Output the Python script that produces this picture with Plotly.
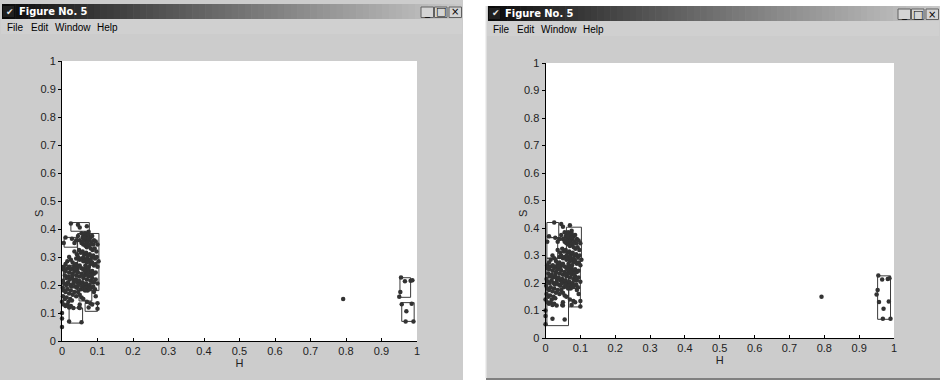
import plotly.graph_objects as go

W, HT = 940, 380

# ---------------- data (H, S pixel samples) ----------------
H_VALS = [
    # top
    0.025, 0.05, 0.075, 0.045, 0.07,
    # upper core
    0.055, 0.06, 0.065, 0.07, 0.075, 0.08, 0.085, 0.09, 0.058, 0.062, 0.068, 0.072, 0.078, 0.083,
    0.088, 0.095, 0.10, 0.05, 0.055, 0.06, 0.066, 0.07, 0.076, 0.081, 0.086, 0.092, 0.097, 0.045,
    0.04, 0.035, 0.028, 0.01, 0.005, 0.064, 0.074, 0.069, 0.079, 0.059,
    # mid
    0.035, 0.042, 0.048, 0.053, 0.058, 0.063, 0.068, 0.073, 0.078, 0.083, 0.088, 0.093, 0.098, 0.103,
    0.04, 0.045, 0.05, 0.055, 0.06, 0.065, 0.07, 0.075, 0.08, 0.085, 0.09, 0.095, 0.10, 0.02,
    0.025, 0.03, 0.015, 0.01, 0.005, 0.035, 0.03, 0.061, 0.071, 0.081, 0.066, 0.076,
    # lower-mid
    0.005, 0.01, 0.015, 0.02, 0.025, 0.03, 0.035, 0.04, 0.045, 0.05, 0.055, 0.06, 0.065, 0.07,
    0.075, 0.08, 0.085, 0.09, 0.095, 0.10, 0.008, 0.012, 0.018, 0.022, 0.028, 0.033, 0.038, 0.043,
    0.048, 0.053, 0.058, 0.063, 0.068, 0.073, 0.078, 0.083, 0.088, 0.093, 0.003, 0.006, 0.012, 0.017,
    0.023, 0.027, 0.032, 0.037, 0.042, 0.047, 0.052, 0.057, 0.062, 0.067, 0.072, 0.077, 0.055, 0.06,
    0.065, 0.07, 0.075, 0.08, 0.085, 0.09, 0.095, 0.05, 0.045, 0.04, 0.067, 0.073, 0.058, 0.064,
    0.083, 0.087, 0.043, 0.038, 0.029, 0.021,
    # lower
    0.002, 0.005, 0.01, 0.015, 0.02, 0.025, 0.03, 0.035, 0.04, 0.003, 0.008, 0.013, 0.018, 0.023,
    0.028, 0.0, 0.005, 0.01, 0.015, 0.02, 0.025, 0.032, 0.048, 0.05, 0.045, 0.05, 0.055, 0.06,
    0.065, 0.07, 0.09, 0.095, 0.10, 0.10, 0.08, 0.085, 0.075, 0.0, 0.0, 0.0, 0.02, 0.055, 0.05,
    # outlier and far cluster
    0.792,
    0.955, 0.966, 0.982, 0.987, 0.953, 0.950, 0.957, 0.985, 0.970, 0.968, 0.990,
]
S_VALS = [
    0.42, 0.405, 0.39, 0.415, 0.41,
    0.385, 0.38, 0.385, 0.375, 0.38, 0.37, 0.375, 0.36, 0.37, 0.365, 0.36, 0.355, 0.36, 0.35,
    0.345, 0.355, 0.345, 0.36, 0.35, 0.345, 0.34, 0.335, 0.34, 0.33, 0.325, 0.33, 0.32, 0.375,
    0.36, 0.35, 0.365, 0.37, 0.35, 0.37, 0.365, 0.35, 0.345, 0.355,
    0.32, 0.31, 0.325, 0.315, 0.32, 0.31, 0.315, 0.305, 0.31, 0.30, 0.305, 0.295, 0.30, 0.285,
    0.295, 0.30, 0.29, 0.295, 0.285, 0.29, 0.28, 0.285, 0.275, 0.28, 0.27, 0.275, 0.265, 0.30,
    0.29, 0.28, 0.285, 0.275, 0.265, 0.27, 0.26, 0.30, 0.295, 0.29, 0.27, 0.265,
    0.255, 0.25, 0.26, 0.245, 0.255, 0.24, 0.25, 0.235, 0.245, 0.23, 0.24, 0.225, 0.235, 0.22,
    0.23, 0.215, 0.225, 0.21, 0.22, 0.205, 0.235, 0.225, 0.23, 0.22, 0.225, 0.215, 0.22, 0.21,
    0.215, 0.205, 0.21, 0.20, 0.205, 0.195, 0.20, 0.19, 0.195, 0.185, 0.215, 0.205, 0.20, 0.21,
    0.20, 0.195, 0.205, 0.195, 0.19, 0.20, 0.185, 0.195, 0.185, 0.19, 0.18, 0.185, 0.26, 0.255,
    0.26, 0.25, 0.255, 0.245, 0.25, 0.24, 0.245, 0.27, 0.265, 0.275, 0.245, 0.24, 0.235, 0.25,
    0.235, 0.21, 0.255, 0.26, 0.235, 0.265,
    0.19, 0.18, 0.175, 0.185, 0.17, 0.18, 0.165, 0.175, 0.16, 0.16, 0.15, 0.155, 0.14, 0.15,
    0.145, 0.14, 0.13, 0.125, 0.13, 0.12, 0.125, 0.118, 0.12, 0.118, 0.175, 0.165, 0.155, 0.15,
    0.18, 0.14, 0.175, 0.16, 0.135, 0.115, 0.135, 0.13, 0.12, 0.10, 0.08, 0.05, 0.07, 0.067, 0.13,
    0.15,
    0.227, 0.213, 0.215, 0.217, 0.175, 0.158, 0.131, 0.133, 0.106, 0.070, 0.070,
]

# bounding boxes, left figure
LEFT_H0 = [0.025, 0.006, 0.044, 0.004, 0.048, 0.065, 0.020, 0.952, 0.957]
LEFT_H1 = [0.077, 0.043, 0.104, 0.040, 0.084, 0.100, 0.058, 0.982, 0.992]
LEFT_S0 = [0.392, 0.335, 0.180, 0.190, 0.143, 0.106, 0.064, 0.156, 0.070]
LEFT_S1 = [0.423, 0.370, 0.384, 0.270, 0.180, 0.135, 0.118, 0.226, 0.137]

# bounding boxes, right figure
RIGHT_H0 = [0.004, 0.060, 0.004, 0.004, 0.066, 0.067, 0.953]
RIGHT_H1 = [0.038, 0.103, 0.035, 0.066, 0.100, 0.100, 0.990]
RIGHT_S0 = [0.365, 0.287, 0.290, 0.045, 0.180, 0.113, 0.068]
RIGHT_S1 = [0.420, 0.403, 0.365, 0.290, 0.287, 0.180, 0.226]

TICKS = [0, 0.1, 0.2, 0.3, 0.4, 0.5, 0.6, 0.7, 0.8, 0.9, 1]
TICK_LABELS = ["0", "0.1", "0.2", "0.3", "0.4", "0.5", "0.6", "0.7", "0.8", "0.9", "1"]

WINDOW_TITLE = "Figure No. 5"
MENU_ITEMS = ["File", "Edit", "Window", "Help"]
X_LABEL, Y_LABEL = "H", "S"

# ---------------- helpers ----------------
def px(x):
    return x / W

def py(y):
    return 1 - y / HT

def box_path(h0, h1, s0, s1):
    xs, ys = [], []
    for a, b, c, d in zip(h0, h1, s0, s1):
        xs += [a, b, b, a, a, None]
        ys += [c, c, d, d, c, None]
    return xs, ys

shapes = []
annotations = []

def rect(x0, y0, x1, y1, fill, line=None, lw=0):
    shapes.append(dict(type="rect", xref="paper", yref="paper",
                       x0=px(x0), x1=px(x1), y0=py(y1), y1=py(y0),
                       fillcolor=fill, line=dict(color=line or fill, width=lw),
                       layer="below"))

def text(x, y, s, size=10, color="#000", bold=False, xanchor="left", family="Liberation Sans", angle=0):
    annotations.append(dict(xref="paper", yref="paper", x=px(x), y=py(y), text=(f"<b>{s}</b>" if bold else s),
                            showarrow=False, xanchor=xanchor, yanchor="middle", textangle=angle,
                            font=dict(size=size, color=color, family=family)))

def window(ox, oy, x_end, y_end, plot_box):
    # body
    rect(ox, oy, x_end, y_end, "#cccccc")
    # menu bar
    rect(ox + 1, oy + 15, x_end - 1, oy + 30, "#d0d0d0")
    # title bar gradient
    tx0, tx1 = ox + 2, x_end - 2
    n = 70
    for i in range(n):
        t = i / (n - 1)
        g = int(10 + 190 * t ** 0.9)
        a = tx0 + (tx1 - tx0) * i / n
        b = tx0 + (tx1 - tx0) * (i + 1) / n + 0.6
        rect(a, oy, b, oy + 15, f"rgb({g},{g},{g})")
    # icon
    rect(ox + 3, oy + 2, ox + 14, oy + 13, "#202020")
    text(ox + 4, oy + 7.5, "\u2714", size=9, color="#e8e8e8", family="DejaVu Sans")
    text(ox + 17, oy + 7.5, WINDOW_TITLE, size=11, color="#ffffff", bold=True, family="DejaVu Sans Condensed")
    # buttons
    bx = x_end - 42
    for k, g in enumerate(["_", "\u25a1", "\u00d7"]):
        x0 = bx + k * 13.5 + (1 if k == 2 else 0)
        rect(x0, oy + 3, x0 + 12.5, oy + 13.5, "#d4d4d4", "#606060", 1)
        text(x0 + 6.2, oy + 8, g, size=10 if k != 1 else 11, color="#000", xanchor="center",
             family="DejaVu Sans")
    # menu
    mx = [ox + 5, ox + 29, ox + 53, ox + 95]
    for m, x in zip(MENU_ITEMS, mx):
        text(x, oy + 23, m, size=10, color="#000")
    # plot white area
    x0, y0, x1, y1 = plot_box
    rect(x0, y0, x1, y1, "#ffffff")

LEFT_PLOT = (62, 61, 417, 341)
RIGHT_PLOT = (545.5, 63, 894, 338)

window(0, 4, 463, 380, LEFT_PLOT)
rect(0, 0, 463, 4, "#cccccc")
window(486, 6, 940, 378, RIGHT_PLOT)
rect(485, 6, 486.5, 378, "#f0f0f0")
rect(486, 378, 940, 380, "#808080")

# y-axis labels (MATLAB ylabel positions)
text(39, 214, Y_LABEL, size=11, color="#222", xanchor="center", angle=-90)
text(523, 214, Y_LABEL, size=11, color="#222", xanchor="center", angle=-90)

fig = go.Figure()

marker = dict(size=4.5, color="#333333", line=dict(width=0))
lbx, lby = box_path(LEFT_H0, LEFT_H1, LEFT_S0, LEFT_S1)
rbx, rby = box_path(RIGHT_H0, RIGHT_H1, RIGHT_S0, RIGHT_S1)

fig.add_trace(go.Scatter(x=lbx, y=lby, mode="lines", line=dict(color="#3a3a3a", width=1),
                         xaxis="x", yaxis="y", hoverinfo="skip", cliponaxis=False))
fig.add_trace(go.Scatter(x=H_VALS, y=S_VALS, mode="markers", marker=marker,
                         xaxis="x", yaxis="y", cliponaxis=False))
fig.add_trace(go.Scatter(x=rbx, y=rby, mode="lines", line=dict(color="#3a3a3a", width=1),
                         xaxis="x2", yaxis="y2", hoverinfo="skip", cliponaxis=False))
fig.add_trace(go.Scatter(x=H_VALS, y=S_VALS, mode="markers", marker=marker,
                         xaxis="x2", yaxis="y2", cliponaxis=False))

def xaxis(dom, anchor):
    return dict(domain=dom, anchor=anchor, range=[0, 1], tickvals=TICKS, ticktext=TICK_LABELS,
                ticks="inside", ticklen=3, tickcolor="#000", showline=True, linecolor="#000",
                linewidth=1, showgrid=False, zeroline=False, fixedrange=True, automargin=False,
                tickfont=dict(size=11, color="#222", family="Liberation Sans"),
                title=dict(text=X_LABEL, standoff=1, font=dict(size=11, color="#222", family="Liberation Sans")))

def yaxis(dom, anchor):
    return dict(domain=dom, anchor=anchor, range=[0, 1], tickvals=TICKS, ticktext=TICK_LABELS,
                ticks="outside", ticklen=3, tickcolor="#000", showline=True, linecolor="#000",
                linewidth=1, showgrid=False, zeroline=False, fixedrange=True, automargin=False,
                tickfont=dict(size=11, color="#222", family="Liberation Sans"))

def dom_x(b):
    return [px(b[0]), px(b[2])]

def dom_y(b):
    return [py(b[3]), py(b[1])]

fig.update_layout(
    width=W, height=HT, margin=dict(l=0, r=0, t=0, b=0, autoexpand=False),
    paper_bgcolor="#ffffff", plot_bgcolor="rgba(0,0,0,0)",
    showlegend=False,
    xaxis=xaxis(dom_x(LEFT_PLOT), "y"),
    yaxis=yaxis(dom_y(LEFT_PLOT), "x"),
    xaxis2=xaxis(dom_x(RIGHT_PLOT), "y2"),
    yaxis2=yaxis(dom_y(RIGHT_PLOT), "x2"),
    shapes=shapes, annotations=annotations,
)

fig.write_html("out.html", config={"displayModeBar": False},
               post_script="document.body.style.margin='0';document.body.style.overflow='hidden';")
